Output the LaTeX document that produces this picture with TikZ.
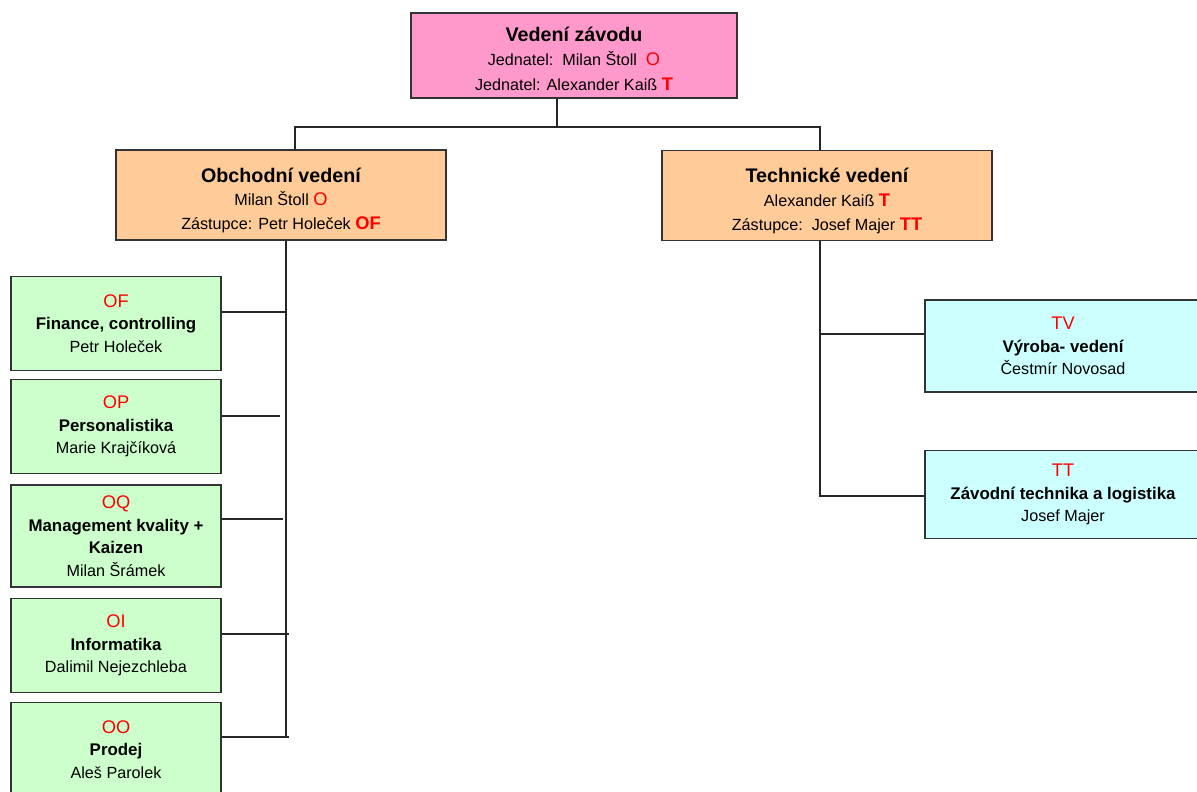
\documentclass[tikz,border=0pt]{standalone}
\usepackage{fontspec}
\setmainfont{Liberation Sans}
\usetikzlibrary{positioning}
\definecolor{vedpink}{RGB}{255,153,204}
\definecolor{vedpeach}{RGB}{255,204,153}
\definecolor{vedgreen}{RGB}{204,255,204}
\definecolor{vedcyan}{RGB}{204,255,255}
\newcommand{\kod}[1]{\textcolor{red}{\fontsize{13}{16}\selectfont #1}}
\newcommand{\titul}[2]{{\fontsize{14}{18}\selectfont\bfseries\rule{0pt}{#1}#2}}
\newcommand{\utvar}[1]{{\fontsize{12}{16}\selectfont\bfseries #1}}

\begin{document}
\begin{tikzpicture}[x=0.025cm,y=-0.025cm,
  box/.style={draw=black!80,line width=0.8pt,align=center,inner sep=0pt,
    font=\fontsize{11.5}{16}\selectfont},
  topbox/.style={box,fill=vedpink,minimum width=8.15cm,minimum height=2.125cm,
    font=\fontsize{11.5}{17.5}\selectfont},
  mgrbox/.style={box,fill=vedpeach,minimum width=8.25cm,minimum height=2.25cm,
    font=\fontsize{11.5}{16.8}\selectfont},
  oddbox/.style={box,fill=vedgreen,minimum width=5.25cm,minimum height=2.33cm},
  tecbox/.style={box,fill=vedcyan,minimum width=6.9cm,minimum height=2.3cm},
  spoj/.style={line width=2pt,black!85}]
\useasboundingbox (0,0) rectangle (1197,791);

% management
\node[topbox] (vedeni) at (574,55.5) {\titul{15pt}{Vedení závodu}\\
  Jednatel:\ \ Milan Štoll\ \ \kod{O}\\
  Jednatel: Alexander Kaiß \kod{\bfseries T}};

\node[mgrbox] (obch) at (281,195) {\titul{18pt}{Obchodní vedení}\\
  Milan Štoll \kod{O}\\
  Zástupce: Petr Holeček \kod{\bfseries OF}};
\node[mgrbox] (tech) at (827,195.5) {\titul{18pt}{Technické vedení}\\
  Alexander Kaiß \kod{\bfseries T}\\
  Zástupce:\ \ Josef Majer \kod{\bfseries TT}};

% commercial departments
\node[oddbox] (of) at (116,323.5) {\kod{OF}\\ \utvar{Finance, controlling}\\ Petr Holeček};
\node[oddbox] (op) at (116,426.5) {\kod{OP}\\ \utvar{Personalistika}\\ Marie Krajčíková};
\node[oddbox,minimum height=2.55cm] (oq) at (116,536) {\kod{OQ}\\
  \utvar{Management kvality +}\\ \utvar{Kaizen}\\ Milan Šrámek};
\node[oddbox] (oi) at (116,645.5) {\kod{OI}\\ \utvar{Informatika}\\ Dalimil Nejezchleba};
\node[oddbox] (oo) at (116,749.5) {\kod{OO}\\ \utvar{Prodej}\\ Aleš Parolek};

% technical departments
\node[tecbox] (tv) at (1063,346) {\kod{TV}\\ \utvar{Výroba- vedení}\\ Čestmír Novosad};
\node[tecbox,minimum height=2.18cm] (tt) at (1063,494.5) {\kod{TT}\\
  \utvar{Závodní technika a logistika}\\ Josef Majer};

% connectors
\coordinate (jtop) at (557,127);
\coordinate (jl) at (295,127);
\coordinate (jr) at (820,127);
\draw[spoj] (vedeni.south -| jtop) -- (jtop);
\draw[spoj] (obch.north -| jl) -- (jl) -- (jr) -- (tech.north -| jr);

\coordinate (spl) at (286,737);
\draw[spoj] (obch.south -| spl) -- (spl);
\coordinate (sof) at (286,312);
\coordinate (sop) at (280,416);
\coordinate (soq) at (283,519);
\coordinate (soi) at (289,634);
\coordinate (soo) at (289,737);
\draw[spoj] (sof -| of.east) -- (sof);
\draw[spoj] (sop -| op.east) -- (sop);
\draw[spoj] (soq -| oq.east) -- (soq);
\draw[spoj] (soi -| oi.east) -- (soi);
\draw[spoj] (soo -| oo.east) -- (soo);

\coordinate (spr) at (820,496);
\coordinate (stv) at (820,334);
\draw[spoj] (tech.south -| spr) -- (spr) -- (spr -| tt.west);
\draw[spoj] (stv) -- (stv -| tv.west);
\end{tikzpicture}
\end{document}
